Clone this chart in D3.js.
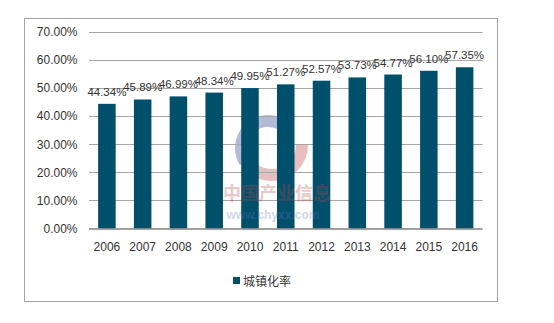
<!DOCTYPE html>
<html><head><meta charset="utf-8">
<script src="https://cdn.jsdelivr.net/npm/d3@7"></script>
<style>
html,body{margin:0;padding:0;background:#fff;}
svg{display:block;font-family:"Liberation Sans",Arial,sans-serif;}
</style></head>
<body>
<svg id="chart" width="554" height="323"></svg>
<script>
const years = ["2006","2007","2008","2009","2010","2011","2012","2013","2014","2015","2016"];
const rates = [44.34,45.89,46.99,48.34,49.95,51.27,52.57,53.73,54.77,56.10,57.35];
const yTicks = [0,10,20,30,40,50,60,70];
const seriesName = "城镇化率";

(function(){
const svg = d3.select("#chart");
const barColor = "#004f6b";

// outer frame
svg.append("rect").attr("x",24.5).attr("y",18.5).attr("width",473).attr("height",283)
  .attr("fill","#fff").attr("stroke","#a6a6a6").attr("stroke-width",1);

const pLeft = 89, pRight = 482.5, pTop = 31.7, pBottom = 228.5;
const x = d3.scaleBand().domain(years).range([pLeft,pRight]).paddingInner(0.51).paddingOuter(0.255);
const y = d3.scaleLinear().domain([0,70]).range([pBottom,pTop]);

// watermark logo
const wm = svg.append("g").attr("opacity",0.35);
wm.append("circle").attr("cx",272).attr("cy",145).attr("r",30).attr("fill","none")
  .attr("stroke","#c0484c").attr("stroke-width",12).attr("stroke-dasharray","75 200");
wm.append("circle").attr("cx",268).attr("cy",148).attr("r",27).attr("fill","none")
  .attr("stroke","#2a3f8f").attr("stroke-width",12).attr("stroke-dasharray","0 70 80 200");

// grid
svg.append("g").selectAll("line").data(yTicks.filter(d=>d>0)).join("line")
  .attr("x1",pLeft).attr("x2",pRight)
  .attr("y1",d=>Math.round(y(d))+0.5).attr("y2",d=>Math.round(y(d))+0.5)
  .attr("stroke","#a6a6a6").attr("stroke-width",1);

// y axis labels
const yAxis = d3.axisLeft(y).tickValues(yTicks).tickSize(0).tickPadding(0)
  .tickFormat(d=>d.toFixed(2)+"%");
const ya = svg.append("g").attr("transform",`translate(${77.5},0)`).call(yAxis);
ya.select(".domain").remove();
ya.selectAll("text").attr("font-size",12).attr("fill","#333")
  .attr("font-family","\"Liberation Sans\",Arial,sans-serif");

// bars
svg.append("g").selectAll("rect").data(rates).join("rect")
  .attr("x",(d,i)=>x(years[i])).attr("width",x.bandwidth())
  .attr("y",d=>y(d)).attr("height",d=>pBottom-y(d)).attr("fill",barColor);

// watermark text over bars
const wt = svg.append("g").attr("opacity",0.3);
wt.append("text").attr("x",277).attr("y",200).attr("text-anchor","middle")
  .attr("font-size",18).attr("font-weight","bold").attr("fill","#c0484c")
  .attr("font-family","\"Noto Sans CJK SC\",sans-serif").text("中国产业信息");
wt.append("text").attr("x",273).attr("y",219).attr("text-anchor","middle")
  .attr("font-size",12).attr("font-weight","bold").attr("fill","#6a78c0").text("www.chyxx.com");

// x axis
svg.append("line").attr("x1",pLeft).attr("x2",pRight).attr("y1",pBottom+0.5).attr("y2",pBottom+0.5)
  .attr("stroke","#808080").attr("stroke-width",1.5);
const xAxis = d3.axisBottom(x).tickSize(0).tickPadding(0);
const xa = svg.append("g").attr("transform",`translate(0,${pBottom})`).call(xAxis);
xa.select(".domain").remove();
xa.selectAll("text").attr("font-size",12).attr("fill","#333").attr("dy","0").attr("y",22)
  .attr("font-family","\"Liberation Sans\",Arial,sans-serif");

// value labels
svg.append("g").selectAll("text").data(rates).join("text")
  .attr("x",(d,i)=>x(years[i])+x.bandwidth()/2).attr("y",d=>y(d)-8)
  .attr("text-anchor","middle").attr("font-size",11.5).attr("fill","#333")
  .text(d=>d.toFixed(2)+"%");

// legend
const lg = svg.append("g");
lg.append("rect").attr("x",233).attr("y",277).attr("width",7).attr("height",7).attr("fill",barColor);
lg.append("text").attr("x",243).attr("y",285.5).attr("font-size",12).attr("fill","#333")
  .attr("font-family","\"Noto Sans CJK SC\",sans-serif").text(seriesName);
})();
</script>
</body></html>
